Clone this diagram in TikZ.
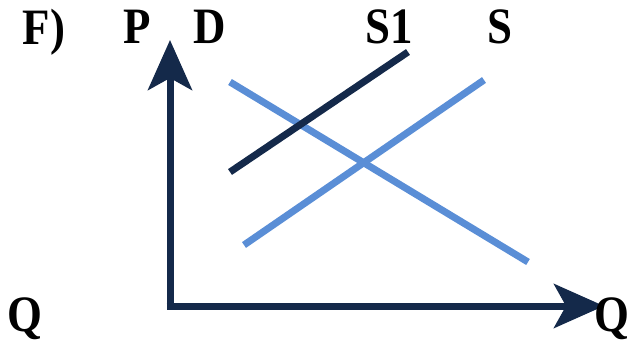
\documentclass[tikz,border=0pt]{standalone}
\usepackage{fontspec}
\setmainfont{Liberation Serif}
\newfontfamily\lblfont[FakeStretch=0.88]{Liberation Serif}
\usetikzlibrary{arrows.meta}
\definecolor{navy}{HTML}{14294A}
\definecolor{lblue}{HTML}{5A8ED6}
\begin{document}
\begin{tikzpicture}[x=1pt,y=-1pt,
  lbl/.style={font=\lblfont\fontsize{51}{51}\selectfont\bfseries, inner sep=0pt, text=black, anchor=base},
  axis/.style={draw=navy, line width=7pt, -{Stealth[length=50pt,width=44pt,inset=12pt]}},
  curve/.style={line width=7pt}]
\useasboundingbox (0,0) rectangle (640,342);
\coordinate (ytop) at (170,40);
\coordinate (origin) at (170,306);
\coordinate (xend) at (604,306);
\draw[axis] (origin) -- (ytop);
\draw[axis] ([xshift=-3.5pt]origin) -- (xend);
\coordinate (d1) at (230,82);
\coordinate (d2) at (528,262);
\coordinate (s1) at (244,245);
\coordinate (s2) at (484,80);
\coordinate (t1) at (230,172);
\coordinate (t2) at (408,52);
\draw[curve, lblue] (d1) -- (d2);
\draw[curve, lblue] (s1) -- (s2);
\draw[curve, navy] (t1) -- (t2);
\node[lbl] (lF) at (44,45) {F)};
\node[lbl] (lP) at (137,44) {P};
\node[lbl] (lD) at (210,44) {D};
\node[lbl] (lS1) at (389,44) {S1};
\node[lbl] (lS) at (500,44) {S};
\node[lbl] (lQr) at (612,331) {Q};
\node[lbl] (lQl) at (25,331) {Q};
\end{tikzpicture}
\end{document}
